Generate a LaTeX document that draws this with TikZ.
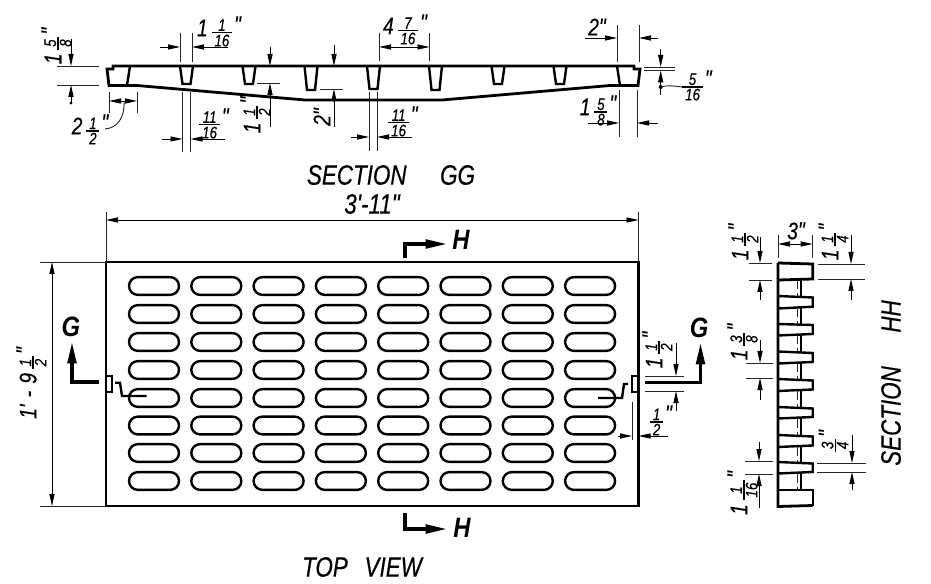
\documentclass[tikz,border=0pt]{standalone}
\usepackage{fontspec}
\newfontfamily\cad{Liberation Sans Italic}[FakeStretch=.8,FakeBold=.35]
\newfontfamily\cadb{Liberation Sans Bold Italic}[FakeStretch=.85]
\usetikzlibrary{arrows.meta}
\newcommand\fsB{\cad\fontsize{21}{23}\selectfont}
\newcommand\fsM{\cadb\fontsize{21}{23}\selectfont}
\newcommand\fsN{\cad\fontsize{18}{20}\selectfont}
\newcommand\fsS{\cad\fontsize{12.5}{13}\selectfont}
\newcommand\fr[2]{$\nulldelimiterspace=0pt{\hbox{\fsS\,#1\,}\above.9pt\hbox{\fsS\,#2\,}}$}
\newcommand\inch{\smash{\raisebox{.25em}{\fsN "}}}
\newcommand\mix[3]{{\fsN #1}\hspace{.3em}\fr{#2}{#3}\hspace{.15em}\inch}
\newcommand\frc[2]{\fr{#1}{#2}\hspace{.15em}\inch}
\newcommand\inw[1]{{\fsN #1}\smash{\raisebox{.02em}{\fsN "}}}
\tikzset{
  x=.75pt,y=-.75pt,
  heavy/.style={line width=2.1pt,line join=miter},
  mid/.style={line width=1.8pt},
  thinl/.style={line width=.7pt,black!85},
  arr/.style={line width=.7pt,-{Triangle[length=9pt,width=3.8pt]}},
  dbl/.style={line width=.7pt,{Triangle[length=9pt,width=3.8pt]}-{Triangle[length=9pt,width=3.8pt]}},
  lab/.style={inner sep=0pt,outer sep=0pt},
  vlab/.style={inner sep=0pt,outer sep=0pt,rotate=90},
  title/.style={inner sep=0pt,font=\fsB},
  mlab/.style={inner sep=0pt,font=\fsM},
  marker/.style={line width=2.4pt,-{Triangle[length=16pt,width=6.5pt]}},
}
\begin{document}
\begin{tikzpicture}
\useasboundingbox[fill=white] (0,0) rectangle (931,584);
% ---------- SECTION GG
\draw[heavy] (113,66) -- (634,66) -- (634,69) -- (640,69) -- (638,85.5) -- (610,85.5)
  -- (442,100) -- (305,100) -- (137,85.5) -- (109,85.5) -- (107,69) -- (113,69) -- cycle;
\draw[mid] (130,66) -- (127,85.5);
\draw[mid] (617,66) -- (620,85.5);
\foreach \xc/\yb in {186.5/84,249/84,311/90,373.5/89,435.5/90,498/84,560/84}{
  \draw[mid] (\xc-6.5,66) -- (\xc-4,\yb) -- (\xc+4,\yb) -- (\xc+6.5,66);
}
% left 1 5/8
\draw[thinl] (57,66) -- (99,66) (57,85) -- (99,85);
\draw[arr] (71,39) -- (71,66);
\draw[arr] (71,103) -- (71,85);
\fill (71,103) circle (1.6);
\node[vlab] (a1) at (58,46) {\mix{1}{5}{8}};
% 2 1/2
\draw[thinl] (109,92) -- (109,113) (137,92) -- (137,113);
\draw[dbl] (109,101) -- (137,101);
\draw[thinl] (124,101) .. controls (125,118) and (117,128) .. (105,129);
\node[lab] (a2) at (90,131) {\mix{2}{1}{2}};
% 1 1/16 top
\draw[thinl] (180,33) -- (180,62) (192,33) -- (192,62);
\draw[arr] (160,47) -- (180,47);
\draw[arr] (228,47) -- (192,47);
\node[lab] (a3) at (219,33) {\mix{1}{1}{16}};
% 1 1/2
\draw[arr] (270,47) -- (270,66);
\draw[thinl] (257,83) -- (280,83);
\draw[arr] (270,127) -- (270,83);
\node[vlab] (a4) at (257,115) {\mix{1}{1}{2}};
% 2"
\draw[arr] (334,45) -- (334,66);
\draw[thinl] (320,89) -- (343,89);
\draw[arr] (334,127) -- (334,89);
\fill (334,100) circle (1.8);
\node[vlab] (a5) at (322,117) {\inw{2}};
% 11/16 left
\draw[thinl] (182.5,92) -- (182.5,152) (190.5,92) -- (190.5,152);
\draw[arr] (162,139) -- (182.5,139);
\draw[arr] (225,139) -- (190.5,139);
\node[lab] (a6) at (214,125) {\frc{11}{16}};
% 4 7/16
\draw[thinl] (379,33) -- (379,61) (429.5,33) -- (429.5,61);
\draw[dbl] (379,47) -- (429.5,47);
\node[lab] (a7) at (405,31) {\mix{4}{7}{16}};
% 11/16 right
\draw[thinl] (369,92) -- (369,151) (377,92) -- (377,151);
\draw[arr] (351,137) -- (369,137);
\draw[arr] (412,137) -- (377,137);
\node[lab] (a8) at (403,123) {\frc{11}{16}};
% 2" right
\draw[thinl] (617,25) -- (617,62) (639,25) -- (639,62);
\draw[arr] (585,38) -- (617,38);
\draw[arr] (658,38) -- (639,38);
\node[lab] (a9) at (597,27) {\inw{2}};
% 1 5/8 right
\draw[thinl] (619,90) -- (619,137) (637,90) -- (637,137);
\draw[arr] (588,123) -- (619,123);
\draw[arr] (658,123) -- (637,123);
\node[lab] (a10) at (598,112) {\mix{1}{5}{8}};
% 5/16
\draw[thinl] (644,67) -- (675,67) (644,70.5) -- (675,70.5);
\draw[arr] (660.7,49) -- (660.7,67);
\draw[arr] (660.7,95) -- (660.7,70.5);
\fill (660.7,87) circle (2);
\draw[thinl] (660.7,87) .. controls (667,85) and (675,86) .. (682,87);
\node[lab] (a11) at (697,87) {\frc{5}{16}};
\node[title] (t1) at (391,175) {SECTION\hspace{1.2em}GG};
% ---------- TOP VIEW
\draw[heavy] (106,262) rectangle (638.5,506);
\foreach \yc in {286,314,342,370,398,425.5,453,481}{
  \foreach \xs in {129,191.3,253.6,315.9,378.2,440.5,502.8,565.1}{
    \draw[mid,rounded corners=6.67pt] (\xs,\yc-8.9) rectangle (\xs+50,\yc+8.9);
  }
}
\draw[thinl] (106,212) -- (106,262) (638.5,212) -- (638.5,262);
\draw[dbl] (106,220) -- (638.5,220);
\node[title] (t2) at (372,204) {3'-11"};
\draw[thinl] (40,262) -- (106,262) (40,506) -- (106,506);
\draw[dbl] (52,262) -- (52,506);
\node[vlab] (t3) at (33,383) {{\fsN 1'\hspace{.3em}-\hspace{.3em}9}\hspace{.3em}\fr{1}{2}\hspace{.15em}\inch};
% G left
\draw[line width=2.4pt] (99,382) -- (72,382) -- (72,365);
\draw[marker] (72,382) -- (72,342);
\node[mlab] (g1) at (71,327) {G};
\draw[line width=.9pt] (106.5,376) rectangle (112,392);
\draw[mid] (115,382.7) -- (120,382.7) -- (122,396) -- (146.5,396);
% G right
\draw[line width=2.4pt] (645,382.7) -- (700.5,382.7) -- (700.5,365);
\draw[marker] (700.5,382.7) -- (700.5,343);
\node[mlab] (g2) at (699,328) {G};
\draw[line width=.9pt] (632,376) rectangle (638,392);
\draw[mid] (598,398) -- (622,398) -- (624,384) -- (628,384);
% 1 1/2 right
\draw[thinl] (645,376) -- (684,376) (645,391) -- (684,391);
\draw[arr] (676,343) -- (676,376);
\draw[arr] (676,411) -- (676,391);
\node[vlab] (b1) at (659,350) {\mix{1}{1}{2}};
% 1/2 right
\draw[thinl] (632,402) -- (632,440);
\draw[arr] (618,436) -- (632,436);
\draw[arr] (668,436) -- (638.5,436);
\node[lab] (b2) at (661,422) {\frc{1}{2}};
% H markers
\draw[line width=2.4pt] (405,258) -- (405,244) -- (425,244);
\draw[marker] (405,244) -- (447,244);
\node[mlab] (h1) at (461,240) {H};
\draw[line width=2.4pt] (405,513) -- (405,529) -- (425,529);
\draw[marker] (405,529) -- (447,529);
\node[mlab] (h2) at (462,528) {H};
\node[title] (t4) at (362,567) {TOP\hspace{.6em}VIEW};
% ---------- SECTION HH
\draw[mid] (801,280) -- (801,296.5) (801,308) -- (801,324.5) (801,335) -- (801,352) (801,363) -- (801,379.5) (801,390.5) -- (801,407.5) (801,418) -- (801,435.5) (801,446.5) -- (801,462.5) (801,473) -- (801,490);
\draw[heavy] (778,263) -- (812.7,264) -- (812.7,279) -- (778,280);
\draw[mid] (778,490) -- (812.7,490) -- (812.7,505.5);
\draw[heavy] (812.7,505.5) -- (778,506.5) -- (778,263);
\foreach \ya/\yb/\yc/\yd in {296/297.5/306.7/308.5,324/325/334/335.5,351.5/353/362/363.5,379/380.5/389.5/391,407/408.5/417/418.5,435/436.5/445.5/447,462/463.5/472/473.5}{
  \draw[mid,line join=miter] (778,\ya) -- (812.7,\yb) -- (812.7,\yc) -- (778,\yd);
}
\foreach \ya/\yb in {280/296,308/324,335/351.5,363/379,391/407,418.5/435,447/462,473.5/490}{
  \draw[thinl,dash pattern=on 7pt off 3pt] (797,\ya) -- (797,\yb);
}
\draw[thinl] (778,235) -- (778,258) (812.7,235) -- (812.7,258);
\draw[dbl] (778,244) -- (812.7,244);
\node[lab] (c1) at (796,231) {\inw{3}};
\draw[thinl] (749,263) -- (772,263) (749,280) -- (772,280);
\draw[arr] (760,237) -- (760,263);
\draw[arr] (760,300) -- (760,280);
\node[vlab] (c2) at (745,242) {\mix{1}{1}{2}};
\draw[thinl] (818,264) -- (865,264) (818,279) -- (865,279);
\draw[arr] (851,235) -- (851,264);
\draw[arr] (851,300) -- (851,279);
\node[vlab] (c3) at (835,242) {\mix{1}{1}{4}};
\draw[thinl] (746,363) -- (773,363) (746,378) -- (773,378);
\draw[arr] (760,340) -- (760,363);
\draw[arr] (760,400) -- (760,378);
\node[vlab] (c4) at (744,342) {\mix{1}{3}{8}};
\draw[thinl] (817,463) -- (866,463) (817,472) -- (866,472);
\draw[arr] (852,435) -- (852,463);
\draw[arr] (852,490) -- (852,472);
\node[vlab] (c5) at (835,441) {\frc{3}{4}};
\draw[thinl] (745,461) -- (773,461) (745,474) -- (773,474);
\draw[arr] (759,442) -- (759,461);
\draw[arr] (759,508) -- (759,474);
\node[vlab] (c6) at (744,493) {\mix{1}{1}{16}};
\node[title,rotate=90] (t5) at (891,383) {SECTION\hspace{1.2em}HH};
\end{tikzpicture}
\end{document}
